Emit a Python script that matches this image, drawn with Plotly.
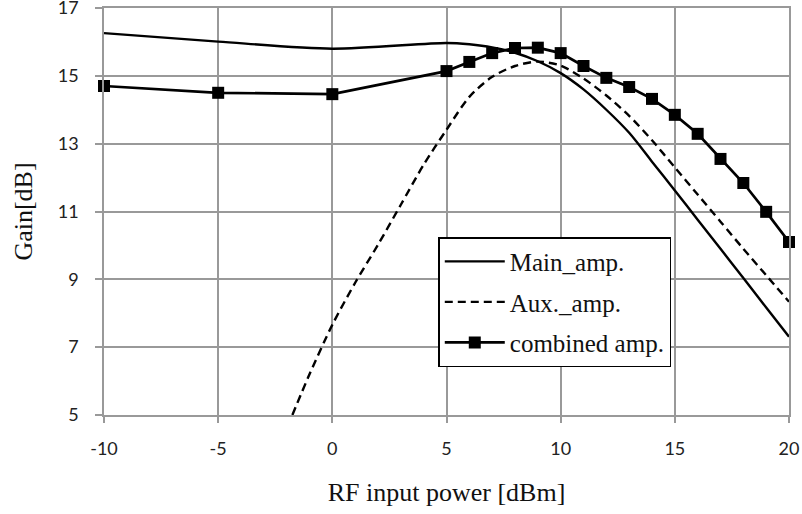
import plotly.graph_objects as go

# ---- data ----
main_x = [-10, -5, 0, 5, 6, 7, 8, 9, 10, 11, 12, 13, 14, 15, 16, 17, 18, 19, 20]
main_y = [16.26, 16.01, 15.80, 15.97, 15.93, 15.84, 15.68, 15.43, 15.08, 14.60, 14.00,
          13.32, 12.47, 11.62, 10.76, 9.90, 9.04, 8.17, 7.31]

aux_x = [-1.75, -1, 0, 1, 2, 3, 4, 5, 6, 7, 8, 9, 10, 11, 12, 13, 14, 15, 16, 17, 18, 19, 20]
aux_y = [5.0, 6.2, 7.66, 8.9, 10.02, 11.2, 12.38, 13.41, 14.38, 14.97, 15.29, 15.42, 15.30,
         14.92, 14.42, 13.82, 13.10, 12.30, 11.50, 10.70, 9.90, 9.12, 8.34]

comb_x = [-10, -5, 0, 5, 6, 7, 8, 9, 10, 11, 12, 13, 14, 15, 16, 17, 18, 19, 20]
comb_y = [14.70, 14.50, 14.46, 15.14, 15.41, 15.67, 15.82, 15.83, 15.67, 15.29, 14.94,
          14.67, 14.32, 13.85, 13.29, 12.55, 11.84, 10.99, 10.10]

x_ticks = [-10, -5, 0, 5, 10, 15, 20]
y_ticks = [5, 7, 9, 11, 13, 15, 17]

names = ["Main_amp.", "Aux._amp.", "combined amp."]

serif = "Liberation Serif, Times New Roman, serif"
sans = "Lato, Carlito, Calibri, sans-serif"

fig = go.Figure()
fig.add_trace(go.Scatter(
    x=main_x, y=main_y, name=names[0], mode="lines",
    line=dict(color="black", width=2.4, shape="spline", smoothing=0.8),
    legendgroup="a", cliponaxis=False))
fig.add_trace(go.Scatter(
    x=aux_x, y=aux_y, name=names[1], mode="lines",
    line=dict(color="black", width=2.4, dash="8px,5px", shape="spline", smoothing=0.8),
    legendgroup="b", cliponaxis=False))
fig.add_trace(go.Scatter(
    x=comb_x, y=comb_y, name=names[2], mode="lines+markers",
    line=dict(color="black", width=2.7),
    marker=dict(symbol="square", size=12, color="black"),
    legendgroup="c", cliponaxis=False))

grid = "#999999"
fig.update_xaxes(
    range=[-10, 20], tickvals=x_ticks, ticktext=[str(v) for v in x_ticks],
    showgrid=True, gridcolor=grid, gridwidth=1.5,
    showline=True, linecolor=grid, linewidth=1.5, mirror=True,
    ticks="outside", ticklen=6, tickcolor=grid, tickwidth=1.5,
    tickfont=dict(family=sans, size=18, color="#222"),
    ticklabelstandoff=11, ticklabeloverflow="allow",
    zeroline=False, automargin=False,
    title=dict(text="RF input power [dBm]", font=dict(family=serif, size=26, color="#111"),
               standoff=24),
)
fig.update_yaxes(
    range=[5, 17], tickvals=y_ticks, ticktext=[str(v) for v in y_ticks],
    showgrid=True, gridcolor=grid, gridwidth=1.5,
    showline=True, linecolor=grid, linewidth=1.5, mirror=True,
    ticks="outside", ticklen=7, tickcolor=grid, tickwidth=1.5,
    tickfont=dict(family=sans, size=18, color="#222"),
    ticklabelstandoff=13, ticklabeloverflow="allow",
    zeroline=False, automargin=False,
    title=dict(text="Gain[dB]", font=dict(family=serif, size=26, color="#111"), standoff=18),
)

fig.update_layout(
    width=802, height=514,
    margin=dict(l=104, r=13, t=8, b=99),
    plot_bgcolor="white", paper_bgcolor="white",
    showlegend=True,
    legend=dict(
        x=0.488, y=0.437, xanchor="left", yanchor="top",
        bgcolor="white", bordercolor="black", borderwidth=1.5,
        font=dict(family=serif, size=25, color="#111"),
        tracegroupgap=5, traceorder="grouped",
        itemwidth=60,
    ),
)

fig.write_html("out.html")
